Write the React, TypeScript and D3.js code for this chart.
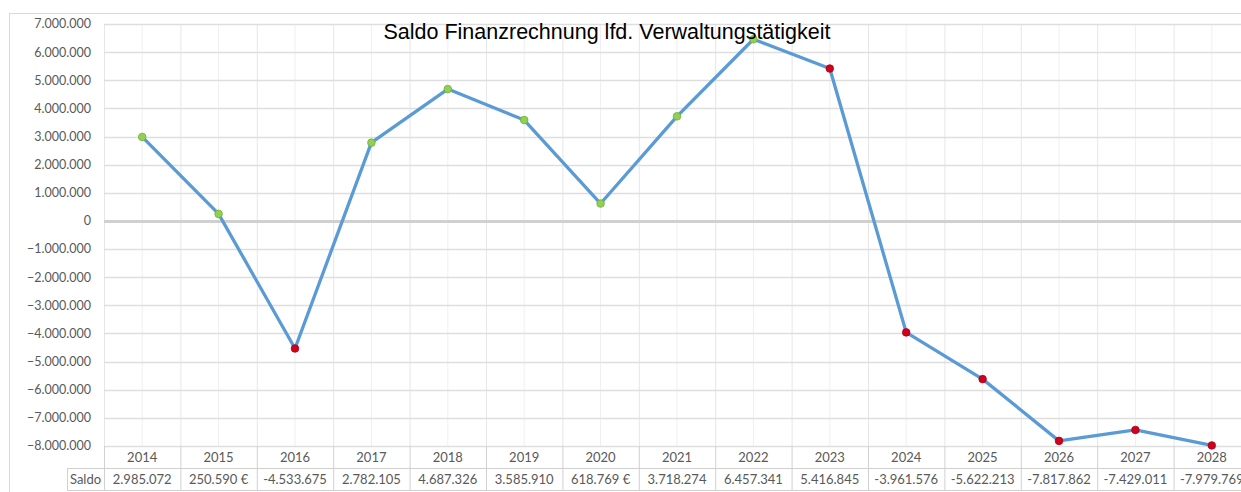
import React, { useEffect, useRef } from "react";
import * as d3 from "d3";

const years = ["2014", "2015", "2016", "2017", "2018", "2019", "2020", "2021", "2022", "2023", "2024", "2025", "2026", "2027", "2028"];
const saldo = [2985072, 250590, -4533675, 2782105, 4687326, 3585910, 618769, 3718274, 6457341, 5416845, -3961576, -5622213, -7817862, -7429011, -7979769];
const tableLabels = ["2.985.072", "250.590 €", "-4.533.675", "2.782.105", "4.687.326", "3.585.910", "618.769 €", "3.718.274", "6.457.341", "5.416.845", "-3.961.576", "-5.622.213", "-7.817.862", "-7.429.011", "-7.979.769"];
// marker colour as set in the source sheet (g = green, r = red)
const markerKind = ["g", "g", "r", "g", "g", "g", "g", "g", "g", "r", "r", "r", "r", "r", "r"];
const yTicks = [-8e6, -7e6, -6e6, -5e6, -4e6, -3e6, -2e6, -1e6, 0, 1e6, 2e6, 3e6, 4e6, 5e6, 6e6, 7e6];

const de = d3.formatLocale({ decimal: ",", thousands: ".", grouping: [3], currency: ["", " €"] });
const fmt = de.format(",d");

const App = () => {
  const ref = useRef<SVGSVGElement>(null);

  useEffect(() => {
    const width = 1241,
      height = 492;
    const left = 104,
      step = 76.4;
    const right = left + step * years.length;
    const top = 24,
      bottom = 446;
    const rowH = 22;

    const svg = d3.select(ref.current);
    svg.selectAll("*").remove();
    svg.attr("width", width).attr("height", height);

    svg.append("rect").attr("width", width).attr("height", height).attr("fill", "#fff");
    // chart border
    svg
      .append("rect")
      .attr("x", 9.5)
      .attr("y", 13.5)
      .attr("width", width)
      .attr("height", height)
      .attr("fill", "none")
      .attr("stroke", "#d9d9d9");

    const x = d3.scaleBand().domain(years).range([left, right]);
    const y = d3.scaleLinear().domain([-8e6, 7e6]).range([bottom, top]);
    const cx = (d: string) => (x(d) as number) + x.bandwidth() / 2;

    // vertical grid: centres and boundaries
    const g = svg.append("g");
    years.forEach((yr) => {
      g.append("line")
        .attr("x1", cx(yr))
        .attr("x2", cx(yr))
        .attr("y1", top)
        .attr("y2", bottom)
        .attr("stroke", "#efefef");
      g.append("line")
        .attr("x1", (x(yr) as number) + 0.5)
        .attr("x2", (x(yr) as number) + 0.5)
        .attr("y1", top)
        .attr("y2", bottom)
        .attr("stroke", "#e6e6e6");
    });

    // horizontal grid
    g.selectAll("line.h")
      .data(yTicks)
      .join("line")
      .attr("class", "h")
      .attr("x1", left)
      .attr("x2", right)
      .attr("y1", (d) => Math.round(y(d)) + 0.5)
      .attr("y2", (d) => Math.round(y(d)) + 0.5)
      .attr("stroke", (d) => (d === 0 ? "#d0d0d0" : "#dedede"))
      .attr("stroke-width", (d) => (d === 0 ? 3 : 1.3));

    svg
      .append("g")
      .selectAll("text")
      .data(yTicks)
      .join("text")
      .attr("x", 91)
      .attr("y", (d) => y(d))
      .attr("dy", "0.35em")
      .attr("text-anchor", "end")
      .attr("font-family", "Lato, 'Open Sans', sans-serif")
      .attr("font-size", 12.5)
      .attr("fill", "#595959")
      .text((d) => fmt(d));

    // data table
    const t = svg.append("g");
    const tStroke = "#d0d0d0";
    t.append("line").attr("x1", left).attr("x2", right).attr("y1", bottom + rowH + 0.5).attr("y2", bottom + rowH + 0.5).attr("stroke", tStroke);
    t.append("line").attr("x1", 67).attr("x2", left).attr("y1", bottom + rowH + 0.5).attr("y2", bottom + rowH + 0.5).attr("stroke", tStroke);
    t.append("line").attr("x1", 67).attr("x2", right).attr("y1", bottom + 2 * rowH + 0.5).attr("y2", bottom + 2 * rowH + 0.5).attr("stroke", tStroke);
    t.append("line").attr("x1", 67.5).attr("x2", 67.5).attr("y1", bottom + rowH).attr("y2", bottom + 2 * rowH).attr("stroke", tStroke);
    years.forEach((yr) => {
      t.append("line")
        .attr("x1", (x(yr) as number) + 0.5)
        .attr("x2", (x(yr) as number) + 0.5)
        .attr("y1", bottom)
        .attr("y2", bottom + 2 * rowH)
        .attr("stroke", tStroke);
    });
    const txt = (sel: any) =>
      sel
        .attr("text-anchor", "middle")
        .attr("font-family", "Lato, 'Open Sans', sans-serif")
        .attr("font-size", 13)
        .attr("fill", "#595959");
    t.selectAll("text.yr")
      .data(years)
      .join("text")
      .attr("class", "yr")
      .attr("x", (d) => cx(d))
      .attr("y", bottom + 16)
      .call(txt)
      .text((d) => d);
    t.selectAll("text.val")
      .data(tableLabels)
      .join("text")
      .attr("class", "val")
      .attr("x", (_, i) => cx(years[i]))
      .attr("y", bottom + rowH + 16)
      .call(txt)
      .text((d) => d);
    t.append("text").attr("x", 85.5).attr("y", bottom + rowH + 16).call(txt).text("Saldo");

    // line
    const line = d3
      .line<number>()
      .x((_, i) => cx(years[i]))
      .y((d) => y(d));
    svg
      .append("path")
      .datum(saldo)
      .attr("d", line)
      .attr("fill", "none")
      .attr("stroke", "#5b9bd5")
      .attr("stroke-width", 3.3)
      .attr("stroke-linejoin", "round");

    svg
      .append("g")
      .selectAll("circle")
      .data(saldo)
      .join("circle")
      .attr("cx", (_, i) => cx(years[i]))
      .attr("cy", (d) => y(d))
      .attr("r", 3.8)
      .attr("fill", (_, i) => (markerKind[i] === "g" ? "#92d050" : "#d0021b"))
      .attr("stroke", (_, i) => (markerKind[i] === "g" ? "#6fae3a" : "#a8001a"))
      .attr("stroke-width", 0.8);

    svg
      .append("text")
      .attr("x", 607)
      .attr("y", 39)
      .attr("text-anchor", "middle")
      .attr("font-family", "'Liberation Sans', Arial, sans-serif")
      .attr("font-size", 21.5)
      .attr("fill", "#000")
      .text("Saldo Finanzrechnung lfd. Verwaltungstätigkeit");
  }, []);

  return <svg ref={ref} style={{ position: "absolute", left: 0, top: 0 }}></svg>;
};

export default App;
